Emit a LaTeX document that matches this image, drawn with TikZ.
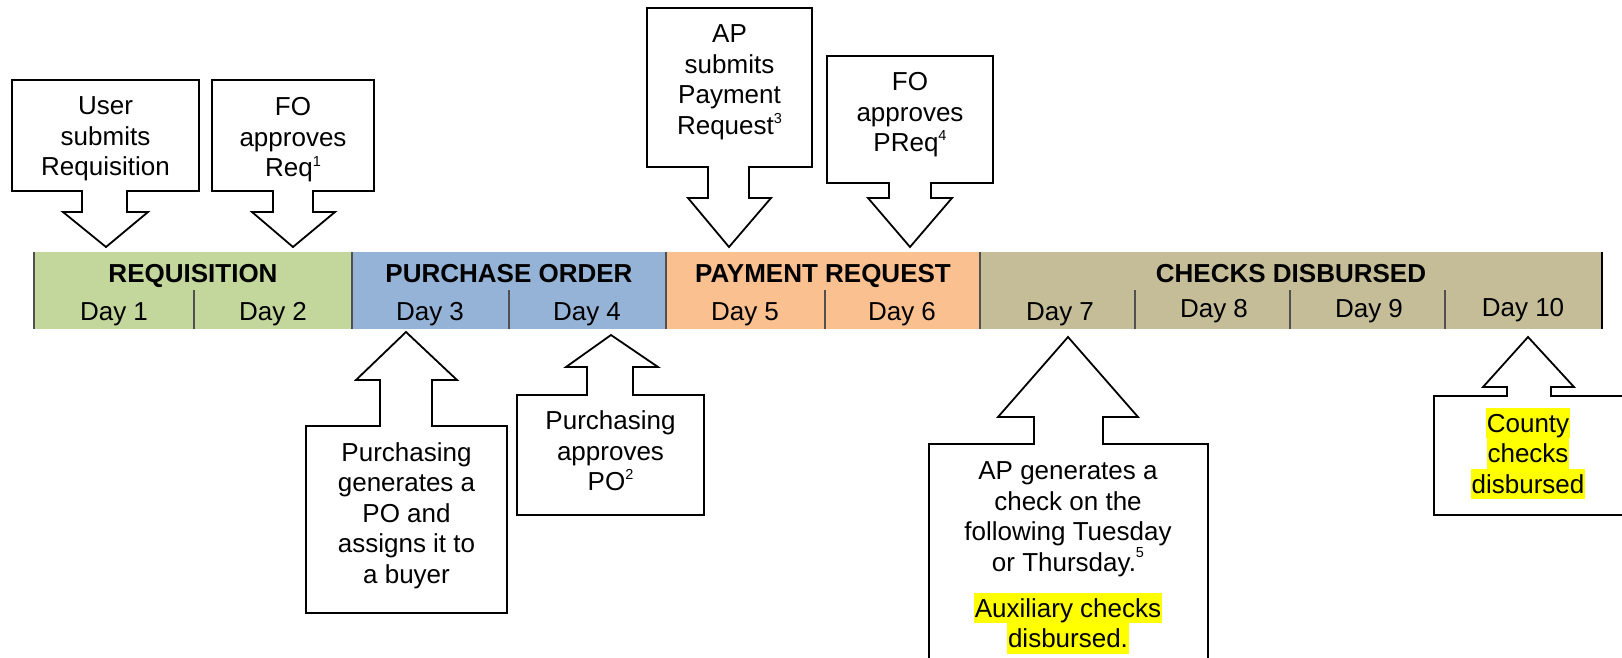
\documentclass[tikz,border=0pt]{standalone}
\usepackage{fontspec}
\setmainfont{Liberation Sans}
\definecolor{reqgreen}{HTML}{C3D69B}
\definecolor{poblue}{HTML}{95B3D7}
\definecolor{prorange}{HTML}{FAC090}
\definecolor{cdtan}{HTML}{C4BD97}
\definecolor{hlyellow}{HTML}{FFFF00}
\definecolor{divgray}{HTML}{505050}
\newcommand{\supn}[2][11pt]{\raisebox{#1}{\fontsize{14.5}{14.5}\selectfont #2}}
\newcommand{\hlline}[1]{{\setlength{\fboxsep}{0pt}\colorbox{hlyellow}{\rule[-6pt]{0pt}{30.5pt}\kern1pt#1\kern1pt}}}
\tikzset{
  callbox/.style={draw=black, fill=white, line width=1.8pt, line join=miter},
  calltext/.style={font=\fontsize{26}{30.5}\selectfont, align=center, inner sep=0pt, anchor=north},
  bartitle/.style={font=\fontsize{26}{30}\selectfont\bfseries, inner sep=0pt, anchor=base},
  daylabel/.style={font=\fontsize{26}{30}\selectfont, inner sep=0pt, anchor=base},
  divline/.style={draw=divgray, line width=1.5pt},
}
\begin{document}
\begin{tikzpicture}[x=1pt,y=-1pt]
\useasboundingbox (0,0) rectangle (1622,658);
\clip (0,0) rectangle (1622,658);
\fill[white] (0,0) rectangle (1622,658);

% ---- timeline bar ----
\fill[reqgreen] (34,252) rectangle (352,329);
\fill[poblue] (352,252) rectangle (666,329);
\fill[prorange] (666,252) rectangle (980,329);
\fill[cdtan] (980,252) rectangle (1602,329);
\foreach \x in {34,352,666,980} \draw[divline] (\x,252) -- (\x,329);
\draw[draw=black, line width=1.8pt] (1602,252) -- (1602,329);
\foreach \x in {194,509,825,1135,1290,1445} \draw[divline] (\x,290) -- (\x,329);

\node[bartitle] (treq) at (193,282) {REQUISITION};
\node[bartitle] (tpo) at (509,282) {PURCHASE ORDER};
\node[bartitle] (tpr) at (823,282) {PAYMENT REQUEST};
\node[bartitle] (tcd) at (1291,282) {CHECKS DISBURSED};

\node[daylabel] (d1) at (114,320) {Day 1};
\node[daylabel] (d2) at (273,320) {Day 2};
\node[daylabel] (d3) at (430,320) {Day 3};
\node[daylabel] (d4) at (587,320) {Day 4};
\node[daylabel] (d5) at (745,320) {Day 5};
\node[daylabel] (d6) at (902,320) {Day 6};
\node[daylabel] (d7) at (1060,320) {Day 7};
\node[daylabel] (d8) at (1214,317) {Day 8};
\node[daylabel] (d9) at (1369,317) {Day 9};
\node[daylabel] (d10) at (1523,316) {Day 10};

% ---- down callouts ----
\draw[callbox] (12,80) -- (199,80) -- (199,191) -- (127,191) -- (127,212) -- (148,212)
  -- (106,247) -- (63,212) -- (82,212) -- (82,191) -- (12,191) -- cycle;
\node[calltext] (ca) at (105.5,96.5) {User\\submits\\Requisition};

\draw[callbox] (212,80) -- (374,80) -- (374,191) -- (313,191) -- (313,212) -- (335,212)
  -- (293,247) -- (252,212) -- (273,212) -- (273,191) -- (212,191) -- cycle;
\node[calltext] (cb) at (293,97.5) {FO\\approves\\Req\supn[10.5pt]{1}};

\draw[callbox] (647,8) -- (812,8) -- (812,167) -- (749,167) -- (749,198) -- (771,198)
  -- (729,247) -- (688,198) -- (708,198) -- (708,167) -- (647,167) -- cycle;
\node[calltext] (cc) at (729.5,24.5) {AP\\submits\\Payment\\Request\supn{3}};

\draw[callbox] (827,56) -- (993,56) -- (993,183) -- (931,183) -- (931,198) -- (952,198)
  -- (910,247) -- (868,198) -- (889,198) -- (889,183) -- (827,183) -- cycle;
\node[calltext] (cd) at (910,72.5) {FO\\approves\\PReq\supn{4}};

% ---- up callouts ----
\draw[callbox] (306,426) -- (380,426) -- (380,380) -- (356,380) -- (406,332) -- (457,380)
  -- (432,380) -- (432,426) -- (507,426) -- (507,613) -- (306,613) -- cycle;
\node[calltext] (ce) at (406.5,442) {Purchasing\\generates a\\PO and\\assigns it to\\a buyer};

\draw[callbox] (517,395) -- (587,395) -- (587,367) -- (566,367) -- (611,335) -- (658,367)
  -- (633,367) -- (633,395) -- (704,395) -- (704,515) -- (517,515) -- cycle;
\node[calltext] (cf) at (610.5,410.5) {Purchasing\\approves\\PO\supn{2}};

\draw[callbox] (929,444) -- (1034,444) -- (1034,417) -- (998,417) -- (1068,337) -- (1138,417)
  -- (1103,417) -- (1103,444) -- (1208,444) -- (1208,680) -- (929,680) -- cycle;
\node[calltext] (cg) at (1068,461.5) {AP generates a\\check on the\\following Tuesday\\or Thursday.\supn[13.5pt]{5}};
\node[calltext] (cg2) at (1068,592.5) {\hlline{Auxiliary checks}\\\hlline{disbursed.}};

\draw[callbox] (1434,396) -- (1507,396) -- (1507,387) -- (1483,387) -- (1528,337) -- (1574,387)
  -- (1551,387) -- (1551,396) -- (1630,396) -- (1630,515) -- (1434,515) -- cycle;
\node[calltext] (ch) at (1528,407.5) {\hlline{County}\\\hlline{checks}\\\hlline{disbursed}};
\end{tikzpicture}
\end{document}
